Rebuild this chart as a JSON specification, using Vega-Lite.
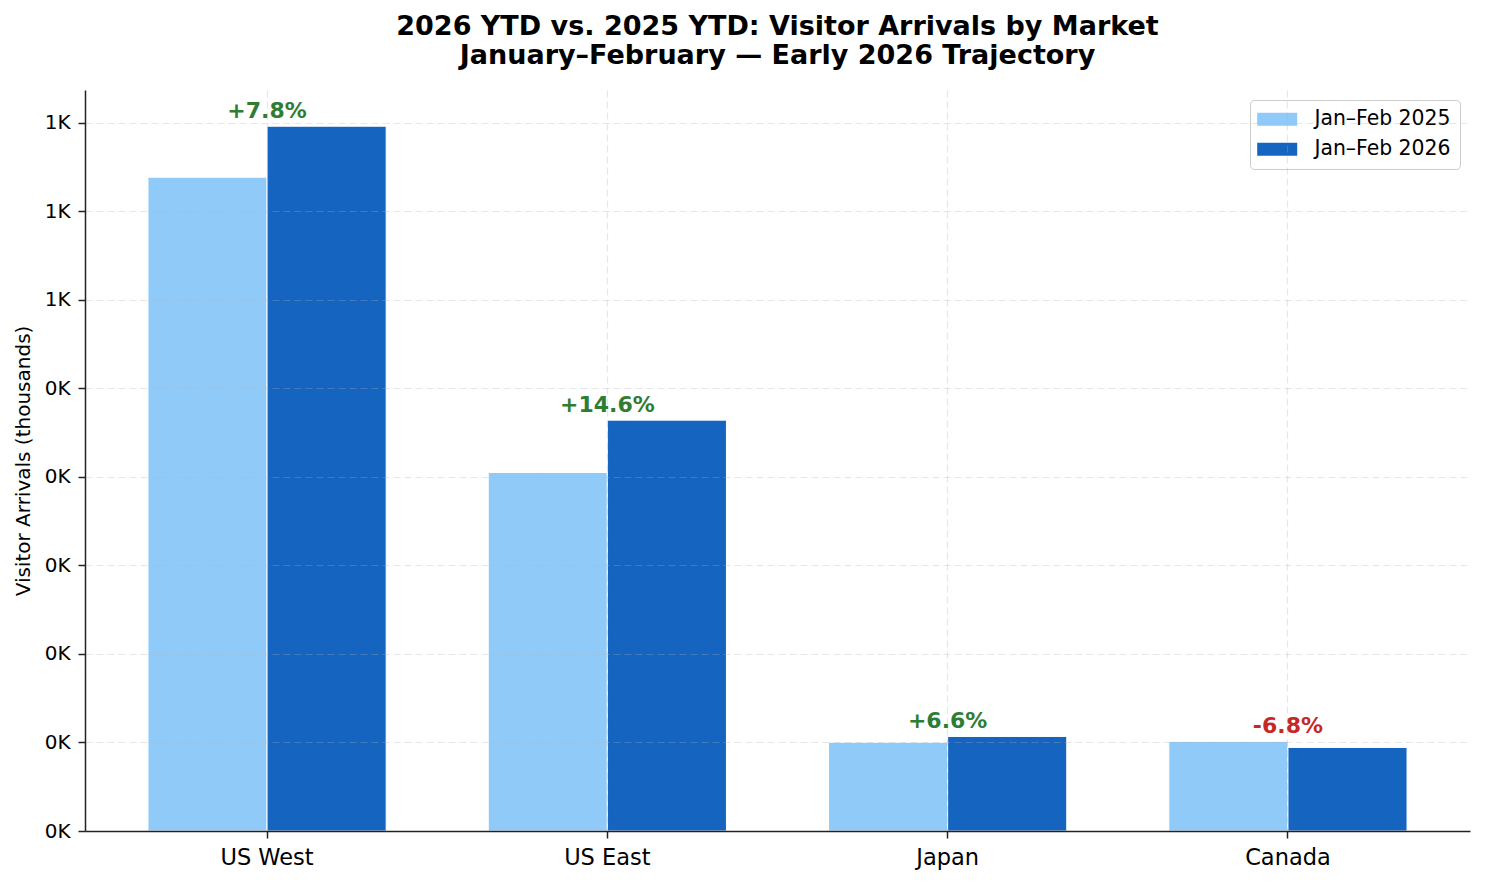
{
  "$schema": "https://vega.github.io/schema/vega-lite/v6.json",
  "width": 1385,
  "height": 741,
  "autosize": {"type": "none"},
  "padding": {"left": 85, "top": 90, "right": 15, "bottom": 54},
  "background": "white",
  "config": {
    "font": "DejaVu Sans",
    "view": {"stroke": null},
    "axis": {"labelFont": "DejaVu Sans", "titleFont": "DejaVu Sans"}
  },
  "title": {
    "text": ["2026 YTD vs. 2025 YTD: Visitor Arrivals by Market", "January–February — Early 2026 Trajectory"],
    "font": "DejaVu Sans",
    "fontSize": 27,
    "fontWeight": "bold",
    "color": "#000000",
    "anchor": "middle",
    "frame": "group",
    "lineHeight": 29,
    "offset": 20
  },
  "data": {
    "values": [
      {"market": "US West", "period": "Jan–Feb 2025", "value": 738.5, "change": "+7.8%"},
      {"market": "US West", "period": "Jan–Feb 2026", "value": 796.1, "change": "+7.8%"},
      {"market": "US East", "period": "Jan–Feb 2025", "value": 405.0, "change": "+14.6%"},
      {"market": "US East", "period": "Jan–Feb 2026", "value": 464.1, "change": "+14.6%"},
      {"market": "Japan", "period": "Jan–Feb 2025", "value": 100.2, "change": "+6.6%"},
      {"market": "Japan", "period": "Jan–Feb 2026", "value": 106.8, "change": "+6.6%"},
      {"market": "Canada", "period": "Jan–Feb 2025", "value": 101.3, "change": "-6.8%"},
      {"market": "Canada", "period": "Jan–Feb 2026", "value": 94.4, "change": "-6.8%"}
    ]
  },
  "layer": [
    {
      "mark": {"type": "bar", "stroke": "white", "strokeWidth": 1},
      "encoding": {
        "x": {
          "field": "market",
          "type": "nominal",
          "sort": ["US West", "US East", "Japan", "Canada"],
          "scale": {"paddingInner": 0.3, "paddingOuter": 0.185},
          "axis": {
            "title": null,
            "labelAngle": 0,
            "labelFontSize": 22.5,
            "labelColor": "#000000",
            "labelPadding": 8,
            "tickSize": 7,
            "tickWidth": 1.5,
            "tickColor": "#222222",
            "domainColor": "#222222",
            "domainWidth": 1.5,
            "grid": true,
            "gridColor": "#b0b0b0",
            "gridOpacity": 0.3,
            "gridDash": [7, 4],
            "gridWidth": 1.2,
            "zindex": 1
          }
        },
        "xOffset": {"field": "period", "type": "nominal", "sort": ["Jan–Feb 2025", "Jan–Feb 2026"]},
        "y": {
          "field": "value",
          "type": "quantitative",
          "scale": {"domain": [0, 837], "nice": false},
          "axis": {
            "title": "Visitor Arrivals (thousands)",
            "titleFontSize": 20,
            "titleFontWeight": "normal",
            "titleColor": "#000000",
            "titlePadding": 11,
            "values": [0, 100, 200, 300, 400, 500, 600, 700, 800],
            "labelExpr": "datum.value > 500 ? '1K' : '0K'",
            "labelFontSize": 20,
            "labelColor": "#000000",
            "labelPadding": 8,
            "tickSize": 7,
            "tickWidth": 1.5,
            "tickColor": "#222222",
            "domainColor": "#222222",
            "domainWidth": 1.5,
            "grid": true,
            "gridColor": "#b0b0b0",
            "gridOpacity": 0.3,
            "gridDash": [7, 4],
            "gridWidth": 1.2,
            "zindex": 1
          }
        },
        "color": {
          "field": "period",
          "type": "nominal",
          "scale": {"domain": ["Jan–Feb 2025", "Jan–Feb 2026"], "range": ["#90caf9", "#1565c0"]},
          "legend": {
            "title": null,
            "orient": "top-right",
            "offset": 10,
            "fillColor": "white",
            "strokeColor": "#cccccc",
            "cornerRadius": 4,
            "padding": 9,
            "symbolType": "M-2,-0.65H2V0.65H-2Z",
            "symbolSize": 400,
            "symbolOffset": 8,
            "symbolStrokeWidth": 0,
            "symbolOpacity": 1,
            "labelFontSize": 20.4,
            "labelColor": "#000000",
            "labelOffset": 27,
            "rowPadding": 9
          }
        }
      }
    },
    {
      "transform": [
        {"aggregate": [{"op": "max", "field": "value", "as": "top"}], "groupby": ["market", "change"]}
      ],
      "mark": {"type": "text", "fontWeight": "bold", "fontSize": 22, "baseline": "alphabetic", "dy": -8, "font": "DejaVu Sans"},
      "encoding": {
        "x": {"field": "market", "type": "nominal", "sort": ["US West", "US East", "Japan", "Canada"]},
        "y": {"field": "top", "type": "quantitative", "title": "Visitor Arrivals (thousands)"},
        "text": {"field": "change"},
        "color": {
          "condition": {"test": "indexof(datum.change, '-') === 0", "value": "#c62828"},
          "value": "#2e7d32"
        }
      }
    }
  ]
}
